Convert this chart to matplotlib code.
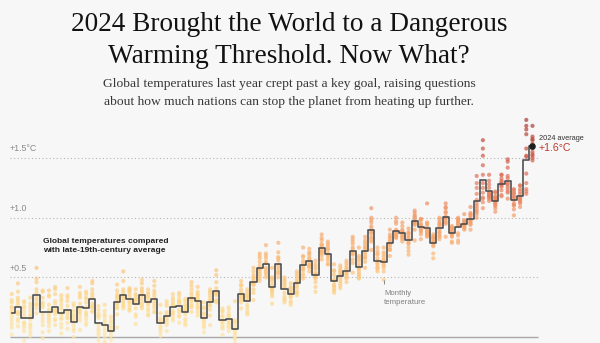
import numpy as np
import matplotlib.pyplot as plt
from matplotlib.colors import LinearSegmentedColormap

# Global temperature, °C above the late-19th-century average
years = list(range(1940, 2025))

annual = [
    0.20, 0.25, 0.16, 0.16, 0.35, 0.21, 0.21, 0.25, 0.20, 0.23,
    0.13, 0.25, 0.24, 0.32, 0.12, 0.10, 0.05, 0.29, 0.35, 0.32,
    0.28, 0.35, 0.29, 0.32, 0.12, 0.18, 0.25, 0.26, 0.21, 0.33,
    0.30, 0.16, 0.29, 0.39, 0.14, 0.15, 0.07, 0.36, 0.30, 0.46,
    0.58, 0.61, 0.42, 0.61, 0.40, 0.36, 0.45, 0.60, 0.64, 0.52,
    0.75, 0.70, 0.47, 0.51, 0.55, 0.72, 0.59, 0.72, 0.90, 0.64,
    0.63, 0.79, 0.89, 0.87, 0.81, 0.97, 0.92, 0.91, 0.79, 0.91,
    1.01, 0.87, 0.92, 0.95, 0.99, 1.14, 1.32, 1.22, 1.14, 1.28,
    1.31, 1.15, 1.18, 1.48, 1.60,
]

# monthly values, one row per year (Jan..Dec)
monthly_1940s = [
    [0.02, 0.11, 0.29, 0.36, 0.25, 0.17, 0.22, 0.14, 0.31, 0.08, 0.20, 0.25],
    [0.09, 0.38, 0.20, 0.31, 0.45, 0.27, 0.13, 0.33, 0.19, 0.29, 0.15, 0.21],
    [0.30, -0.03, 0.08, 0.21, 0.12, 0.26, 0.05, 0.18, 0.24, 0.10, 0.29, 0.12],
    [0.01, 0.22, 0.07, 0.25, 0.11, 0.15, 0.28, 0.04, 0.19, 0.33, 0.09, 0.18],
    [0.46, 0.24, 0.37, 0.28, 0.49, 0.31, 0.20, 0.40, 0.58, 0.33, 0.27, 0.27],
    [0.38, 0.10, 0.16, 0.29, 0.04, 0.25, 0.19, 0.33, 0.13, 0.27, -0.01, 0.39],
    [0.34, 0.39, 0.12, 0.23, 0.05, 0.18, 0.27, 0.09, 0.20, 0.35, 0.14, 0.16],
    [0.15, 0.23, 0.42, 0.30, 0.19, 0.10, 0.36, 0.28, 0.21, 0.40, 0.14, 0.22],
    [0.32, 0.03, 0.24, 0.11, 0.20, 0.35, 0.08, 0.16, 0.27, 0.19, 0.30, 0.15],
    [0.12, 0.35, 0.20, 0.30, 0.41, 0.16, 0.26, 0.07, 0.22, 0.33, 0.18, 0.16],
]
monthly_1950s = [
    [-0.06, 0.05, 0.19, 0.10, 0.26, 0.07, 0.15, 0.22, 0.00, 0.13, 0.17, 0.28],
    [0.06, 0.14, 0.21, 0.33, 0.24, 0.37, 0.28, 0.35, 0.23, 0.42, 0.17, 0.20],
    [0.36, 0.29, 0.12, 0.21, 0.32, 0.15, 0.38, 0.25, 0.10, 0.19, 0.33, 0.18],
    [0.25, 0.45, 0.37, 0.28, 0.21, 0.40, 0.33, 0.26, 0.47, 0.35, 0.22, 0.25],
    [0.23, 0.01, 0.16, 0.05, 0.26, 0.10, -0.03, 0.18, 0.07, 0.20, 0.03, 0.18],
    [0.19, -0.04, 0.09, 0.03, 0.14, 0.22, 0.00, 0.06, 0.17, -0.05, 0.12, 0.27],
    [-0.08, 0.09, -0.02, 0.14, 0.04, -0.06, 0.08, 0.01, 0.12, 0.17, 0.06, 0.05],
    [0.08, 0.19, 0.24, 0.33, 0.27, 0.39, 0.31, 0.25, 0.36, 0.44, 0.28, 0.34],
    [0.55, 0.47, 0.38, 0.27, 0.33, 0.24, 0.40, 0.29, 0.36, 0.26, 0.31, 0.34],
    [0.40, 0.25, 0.36, 0.22, 0.34, 0.27, 0.41, 0.30, 0.23, 0.38, 0.29, 0.39],
]
monthly_1960s = [
    [0.36, 0.19, 0.11, 0.30, 0.35, 0.24, 0.28, 0.33, 0.17, 0.31, 0.40, 0.32],
    [0.38, 0.48, 0.27, 0.41, 0.32, 0.24, 0.39, 0.35, 0.29, 0.45, 0.26, 0.36],
    [0.33, 0.24, 0.37, 0.19, 0.34, 0.27, 0.18, 0.36, 0.22, 0.30, 0.40, 0.28],
    [0.24, 0.39, 0.30, 0.21, 0.28, 0.35, 0.26, 0.43, 0.37, 0.47, 0.33, 0.21],
    [0.27, 0.20, 0.06, 0.13, 0.09, 0.01, 0.12, 0.04, 0.16, 0.08, 0.14, 0.14],
    [0.05, 0.12, 0.21, 0.15, 0.26, 0.18, 0.10, 0.28, 0.20, 0.30, 0.14, 0.17],
    [0.31, 0.36, 0.22, 0.16, 0.27, 0.33, 0.19, 0.14, 0.29, 0.26, 0.20, 0.27],
    [0.17, 0.12, 0.28, 0.37, 0.30, 0.23, 0.29, 0.21, 0.35, 0.32, 0.18, 0.30],
    [0.10, 0.27, 0.32, 0.15, 0.23, 0.13, 0.19, 0.26, 0.11, 0.30, 0.22, 0.24],
    [0.21, 0.28, 0.40, 0.46, 0.37, 0.31, 0.35, 0.26, 0.33, 0.43, 0.25, 0.31],
]
monthly_1970s = [
    [0.42, 0.36, 0.25, 0.33, 0.21, 0.29, 0.27, 0.35, 0.18, 0.38, 0.24, 0.32],
    [0.24, 0.09, 0.04, 0.13, 0.20, 0.11, 0.25, 0.16, 0.08, 0.19, 0.14, 0.29],
    [0.10, 0.18, 0.23, 0.26, 0.30, 0.33, 0.27, 0.35, 0.37, 0.31, 0.40, 0.38],
    [0.52, 0.56, 0.46, 0.41, 0.35, 0.38, 0.31, 0.36, 0.30, 0.37, 0.29, 0.37],
    [0.08, 0.02, 0.14, 0.21, 0.10, 0.17, 0.13, 0.07, 0.22, 0.12, 0.24, 0.18],
    [0.18, 0.25, 0.08, 0.20, 0.11, 0.17, 0.09, 0.23, 0.05, 0.14, 0.12, 0.18],
    [0.01, -0.05, 0.04, 0.12, -0.01, 0.09, 0.03, 0.14, 0.06, -0.02, 0.13, 0.30],
    [0.24, 0.31, 0.43, 0.47, 0.38, 0.34, 0.40, 0.29, 0.36, 0.44, 0.32, 0.34],
    [0.38, 0.22, 0.34, 0.27, 0.36, 0.20, 0.31, 0.25, 0.33, 0.19, 0.40, 0.35],
    [0.31, 0.37, 0.44, 0.49, 0.40, 0.52, 0.45, 0.55, 0.47, 0.50, 0.58, 0.44],
]
monthly_1980s = [
    [0.47, 0.63, 0.55, 0.68, 0.51, 0.60, 0.66, 0.53, 0.70, 0.49, 0.57, 0.57],
    [0.77, 0.68, 0.55, 0.63, 0.58, 0.70, 0.52, 0.66, 0.57, 0.62, 0.50, 0.54],
    [0.34, 0.28, 0.40, 0.47, 0.36, 0.44, 0.38, 0.49, 0.41, 0.50, 0.39, 0.58],
    [0.66, 0.79, 0.71, 0.58, 0.54, 0.64, 0.56, 0.67, 0.60, 0.50, 0.53, 0.54],
    [0.50, 0.32, 0.45, 0.34, 0.47, 0.37, 0.42, 0.29, 0.41, 0.31, 0.48, 0.44],
    [0.27, 0.34, 0.41, 0.33, 0.45, 0.38, 0.30, 0.42, 0.35, 0.38, 0.40, 0.29],
    [0.38, 0.49, 0.35, 0.53, 0.43, 0.37, 0.51, 0.41, 0.46, 0.55, 0.47, 0.45],
    [0.49, 0.53, 0.51, 0.58, 0.62, 0.56, 0.67, 0.60, 0.64, 0.57, 0.68, 0.75],
    [0.71, 0.60, 0.74, 0.66, 0.58, 0.70, 0.62, 0.65, 0.55, 0.68, 0.59, 0.60],
    [0.42, 0.38, 0.53, 0.49, 0.57, 0.50, 0.59, 0.54, 0.46, 0.61, 0.51, 0.64],
]
monthly_1990s = [
    [0.65, 0.72, 0.81, 0.70, 0.77, 0.68, 0.83, 0.71, 0.76, 0.86, 0.73, 0.78],
    [0.80, 0.73, 0.76, 0.66, 0.74, 0.69, 0.78, 0.61, 0.68, 0.64, 0.70, 0.61],
    [0.61, 0.56, 0.52, 0.47, 0.44, 0.40, 0.37, 0.39, 0.42, 0.48, 0.43, 0.55],
    [0.45, 0.56, 0.49, 0.54, 0.43, 0.52, 0.41, 0.58, 0.47, 0.55, 0.60, 0.52],
    [0.46, 0.52, 0.49, 0.57, 0.50, 0.62, 0.55, 0.53, 0.60, 0.64, 0.58, 0.54],
    [0.62, 0.80, 0.69, 0.75, 0.65, 0.78, 0.71, 0.82, 0.70, 0.84, 0.74, 0.54],
    [0.52, 0.66, 0.55, 0.49, 0.61, 0.58, 0.64, 0.50, 0.57, 0.68, 0.53, 0.75],
    [0.58, 0.63, 0.66, 0.69, 0.67, 0.74, 0.71, 0.77, 0.75, 0.81, 0.79, 0.84],
    [0.98, 1.08, 0.96, 1.00, 0.91, 0.87, 0.93, 0.88, 0.82, 0.84, 0.80, 0.73],
    [0.69, 0.75, 0.58, 0.55, 0.61, 0.66, 0.59, 0.64, 0.70, 0.57, 0.72, 0.62],
]
monthly_2000s = [
    [0.48, 0.60, 0.65, 0.71, 0.58, 0.63, 0.67, 0.55, 0.69, 0.61, 0.64, 0.75],
    [0.68, 0.73, 0.81, 0.77, 0.84, 0.75, 0.80, 0.86, 0.78, 0.83, 0.90, 0.73],
    [0.95, 1.00, 0.97, 0.87, 0.85, 0.88, 0.83, 0.86, 0.90, 0.84, 0.89, 0.84],
    [0.90, 0.83, 0.80, 0.85, 0.88, 0.82, 0.86, 0.93, 0.89, 0.96, 0.84, 0.88],
    [0.88, 0.91, 0.84, 0.80, 0.72, 0.78, 0.75, 0.79, 0.83, 0.86, 0.87, 0.69],
    [0.95, 0.90, 1.00, 0.98, 0.96, 1.02, 0.94, 0.97, 1.04, 1.06, 1.01, 0.81],
    [0.82, 0.88, 0.86, 0.90, 0.89, 0.93, 0.95, 0.91, 0.94, 0.98, 0.99, 0.99],
    [1.12, 0.96, 0.93, 0.95, 0.90, 0.87, 0.88, 0.89, 0.86, 0.84, 0.85, 0.87],
    [0.66, 0.70, 0.84, 0.77, 0.76, 0.79, 0.82, 0.80, 0.81, 0.86, 0.83, 0.84],
    [0.85, 0.82, 0.84, 0.88, 0.87, 0.90, 0.95, 0.94, 0.96, 0.93, 0.98, 1.00],
]
monthly_2010s = [
    [1.05, 1.08, 1.12, 1.09, 1.04, 1.00, 1.01, 0.98, 0.95, 0.96, 1.00, 0.84],
    [0.80, 0.79, 0.84, 0.86, 0.85, 0.89, 0.91, 0.93, 0.88, 0.87, 0.90, 0.92],
    [0.79, 0.81, 0.85, 0.93, 0.95, 0.97, 0.94, 0.96, 0.99, 1.00, 0.98, 0.87],
    [0.94, 0.91, 0.93, 0.90, 0.96, 0.95, 0.92, 0.94, 0.98, 0.97, 1.03, 0.97],
    [0.95, 0.90, 0.96, 0.99, 1.03, 0.98, 0.94, 1.04, 1.02, 1.01, 0.97, 1.09],
    [1.03, 1.00, 1.06, 1.05, 1.10, 1.12, 1.08, 1.15, 1.20, 1.25, 1.29, 1.35],
    [1.52, 1.65, 1.58, 1.44, 1.36, 1.29, 1.25, 1.21, 1.13, 1.17, 1.16, 1.08],
    [1.28, 1.36, 1.31, 1.25, 1.20, 1.16, 1.18, 1.21, 1.14, 1.19, 1.17, 1.19],
    [1.05, 1.08, 1.12, 1.18, 1.13, 1.10, 1.16, 1.15, 1.11, 1.22, 1.17, 1.21],
    [1.18, 1.23, 1.36, 1.31, 1.19, 1.27, 1.33, 1.26, 1.30, 1.29, 1.28, 1.36],
]
monthly_2020s = [
    [1.47, 1.49, 1.42, 1.35, 1.33, 1.26, 1.22, 1.24, 1.29, 1.21, 1.28, 1.16],
    [1.10, 1.02, 1.07, 1.11, 1.12, 1.15, 1.21, 1.18, 1.20, 1.17, 1.23, 1.24],
    [1.13, 1.09, 1.22, 1.15, 1.16, 1.20, 1.17, 1.24, 1.14, 1.27, 1.12, 1.27],
    [1.20, 1.22, 1.52, 1.29, 1.24, 1.37, 1.51, 1.58, 1.70, 1.74, 1.77, 1.82],
    [1.66, 1.77, 1.68, 1.58, 1.52, 1.50, 1.48, 1.53, 1.55, 1.65, 1.62, 1.60],
]

grid_levels = [0.5, 1.0, 1.5]
grid_labels = ["+0.5", "+1.0", "+1.5°C"]

bg = "#f7f7f7"
sans = ["Liberation Sans", "DejaVu Sans"]
serif = ["Liberation Serif", "DejaVu Serif"]

monthly = (monthly_1940s + monthly_1950s + monthly_1960s + monthly_1970s
           + monthly_1980s + monthly_1990s + monthly_2000s + monthly_2010s
           + monthly_2020s)
month_x = np.repeat(years, 12)
month_v = np.concatenate(monthly)

heat = LinearSegmentedColormap.from_list(
    "heat",
    [(0.0, "#fde9b0"), (0.2, "#fdd98a"), (0.37, "#fbbd76"),
     (0.58, "#f49c68"), (0.79, "#dc6652"), (1.0, "#a9342e")])
vmin, vmax = -0.1, 1.8

fig = plt.figure(figsize=(6, 3.43), dpi=100, facecolor=bg)
ax = fig.add_axes([0, 0, 1, 1])
ax.set_facecolor(bg)
ax.set_xlim(1938.11, 2034.89)
ax.set_ylim(-0.050, 2.825)
ax.axis("off")

x0, x1 = 1939.7, 2024.85

# dotted reference lines and a solid zero line
for lvl, lab in zip(grid_levels, grid_labels):
    ax.hlines(lvl, x0, x1, colors="#b5b5b5", lw=0.8, linestyles=(0, (1, 2.2)), zorder=1)
    ax.text(x0, lvl + 0.04, lab, fontsize=6.3, color="#8a8a8a", family=sans,
            ha="left", va="bottom")
ax.hlines(0, x0, x1, colors="#a8a8a8", lw=1.0, zorder=1)

# monthly dots
ax.scatter(month_x, month_v, s=9, c=heat((month_v - vmin) / (vmax - vmin)),
           alpha=0.68, linewidths=0, zorder=2)

# yearly average as steps
ax.step(years, annual, where="mid", color="#4a4a4a", lw=1.15, zorder=3)
ax.scatter([years[-1]], [annual[-1]], s=14, color="#1e1e1e", zorder=4)

ax.text(2025.05, 1.665, "2024 average", fontsize=5.3, color="#333333",
        family=sans, ha="left", va="center")
ax.text(2025.05, 1.583, "+1.6°C", fontsize=7.6, color="#c0392b",
        family=sans, ha="left", va="center")

ax.text(1945.05, 0.760, "Global temperatures compared\nwith late-19th-century average",
        fontsize=6.0, fontweight="bold", color="#222222", family=sans,
        ha="left", va="center", linespacing=1.45)

ax.vlines(2000, 0.442, 0.478, colors="#888888", lw=0.7)
ax.text(2000.05, 0.327, "Monthly\ntemperature", fontsize=5.6, color="#808080",
        family=sans, ha="left", va="center", linespacing=1.25)

# headline and dek
fig.text(289 / 600, 1 - 31 / 343, "2024 Brought the World to a Dangerous",
         fontsize=19.6, color="#121212", family=serif, ha="center", va="baseline")
fig.text(289 / 600, 1 - 63 / 343, "Warming Threshold. Now What?",
         fontsize=19.6, color="#121212", family=serif, ha="center", va="baseline")
fig.text(289 / 600, 1 - 87 / 343,
         "Global temperatures last year crept past a key goal, raising questions",
         fontsize=9.7, color="#363636", family=serif, ha="center", va="baseline")
fig.text(289 / 600, 1 - 105 / 343,
         "about how much nations can stop the planet from heating up further.",
         fontsize=9.7, color="#363636", family=serif, ha="center", va="baseline")

fig.savefig("out.png", dpi=100, facecolor=bg)
